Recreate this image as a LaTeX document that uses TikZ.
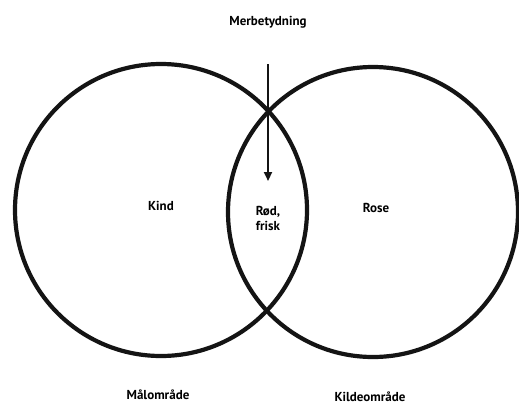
\documentclass[tikz,border=0pt]{standalone}
\usepackage{fontspec}
\setmainfont{PT Sans}
\usetikzlibrary{arrows.meta}
\tikzset{
  ring/.style={draw=black!92, line width=4.2pt},
  lbl/.style={font=\bfseries\fontsize{13}{15}\selectfont, text=black, align=center, inner sep=0pt},
  arr/.style={draw=black!92, line width=2.2pt, -{Triangle[length=9pt,width=8pt]}}
}
\begin{document}
\begin{tikzpicture}[x=1pt,y=-1pt]
\useasboundingbox (0,0) rectangle (519,405);
\fill[white] (0,0) rectangle (519,405);
\node[ring, circle, minimum size=292pt, inner sep=0pt] (L) at (161,210) {};
\node[ring, circle, minimum size=290pt, inner sep=0pt] (R) at (373,212) {};
\coordinate (top) at (268,64);
\coordinate (tip) at (268,181);
\draw[arr] (top) -- (tip);
\node[lbl] (mer) at (268,22) {Merbetydning};
\node[lbl] (kind) at (161,206) {Kind};
\node[lbl] (rod) at (268,218) {Rød,\\frisk};
\node[lbl] (rose) at (376,208) {Rose};
\node[lbl] (malo) at (158,395) {Målområde};
\node[lbl] (kilde) at (370,397) {Kildeområde};
\end{tikzpicture}
\end{document}
